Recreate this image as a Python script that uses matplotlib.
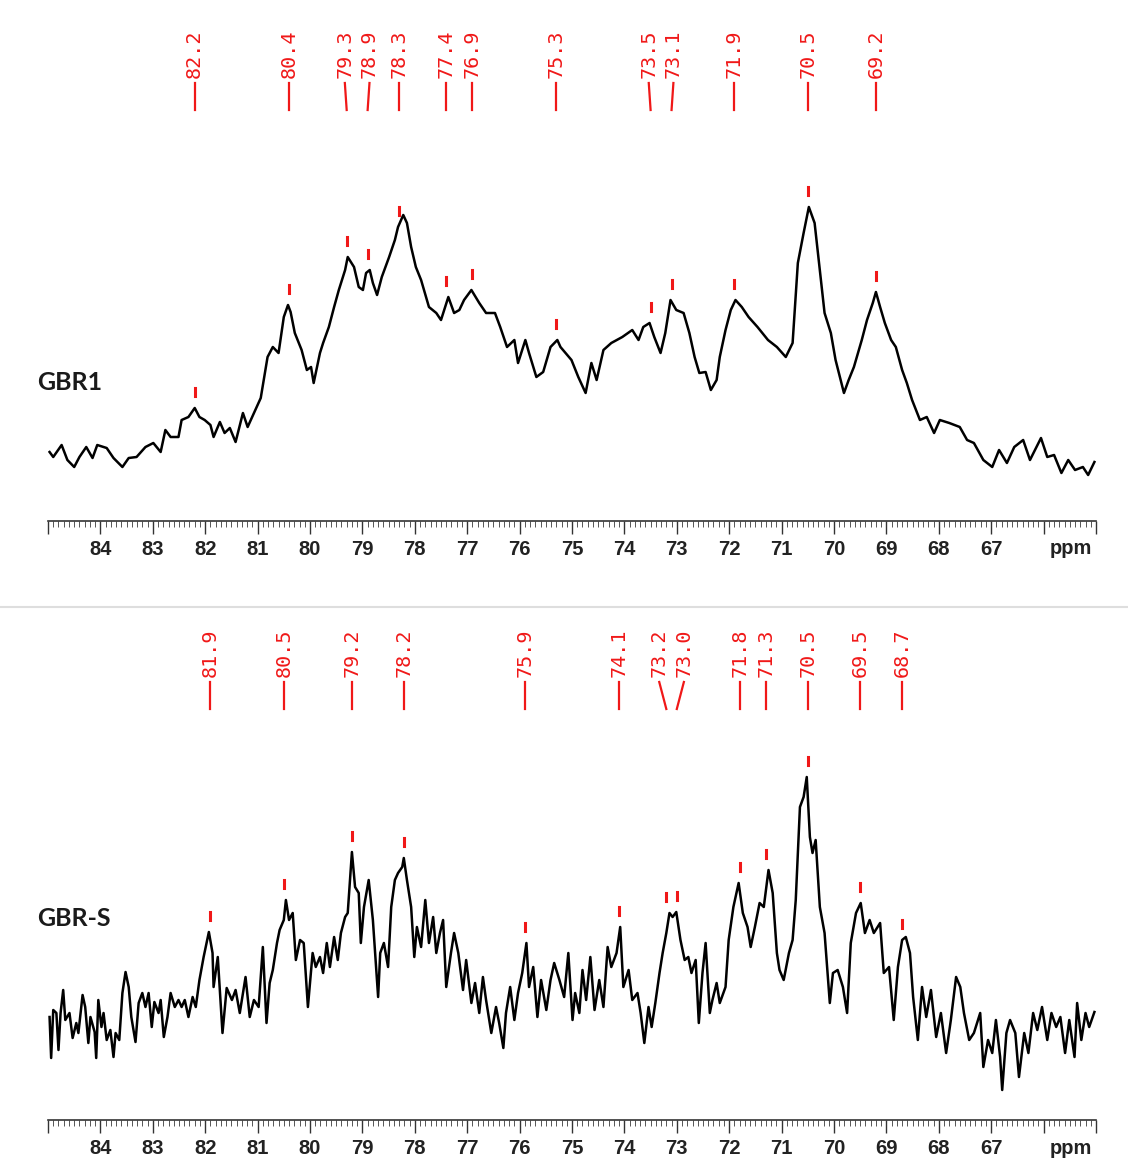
import numpy as np
import matplotlib.pyplot as plt
from matplotlib.lines import Line2D
from matplotlib.ticker import FixedLocator, FixedFormatter

# GBR1 trace (ppm, intensity a.u.)
gbr1_ppm = [84.97, 84.90, 84.74, 84.63, 84.50, 84.40, 84.27, 84.15, 84.06, 83.88,
            83.75, 83.58, 83.46, 83.31, 83.14, 82.99, 82.85, 82.76, 82.66, 82.51,
            82.45, 82.32, 82.20, 82.11, 82.01, 81.90, 81.84, 81.72, 81.63, 81.53,
            81.42, 81.28, 81.19, 81.07, 80.94, 80.81, 80.71, 80.60, 80.50, 80.42,
            80.37, 80.29, 80.16, 80.06, 79.98, 79.93, 79.81, 79.75, 79.64, 79.54,
            79.45, 79.33, 79.28, 79.16, 79.07, 78.99, 78.93, 78.86, 78.80, 78.72,
            78.63, 78.49, 78.38, 78.32, 78.22, 78.15, 78.07, 77.98, 77.88, 77.73,
            77.59, 77.50, 77.36, 77.25, 77.15, 77.06, 76.92, 76.77, 76.64, 76.47,
            76.37, 76.24, 76.10, 76.03, 75.89, 75.82, 75.68, 75.55, 75.41, 75.28,
            75.22, 75.01, 74.88, 74.74, 74.63, 74.53, 74.40, 74.25, 74.04, 73.85,
            73.73, 73.64, 73.52, 73.43, 73.31, 73.22, 73.12, 73.01, 72.87, 72.76,
            72.66, 72.57, 72.45, 72.35, 72.24, 72.18, 72.07, 71.97, 71.88, 71.76,
            71.63, 71.46, 71.26, 71.09, 70.92, 70.79, 70.69, 70.58, 70.48, 70.37,
            70.27, 70.18, 70.06, 69.97, 69.81, 69.72, 69.62, 69.47, 69.37, 69.26,
            69.20, 69.12, 69.03, 68.91, 68.82, 68.70, 68.61, 68.51, 68.36, 68.23,
            68.09, 67.98, 67.80, 67.60, 67.46, 67.33, 67.15, 66.98, 66.85, 66.70,
            66.56, 66.39, 66.26, 66.05, 65.93, 65.80, 65.66, 65.53, 65.40, 65.25,
            65.15, 65.03]
gbr1_int = [69, 64, 76, 61, 54, 64, 74, 63, 76, 73,
            63, 54, 63, 64, 74, 78, 69, 91, 84, 84,
            101, 104, 113, 104, 101, 96, 84, 99, 88, 93,
            79, 108, 94, 108, 123, 164, 174, 168, 204, 216,
            209, 188, 171, 151, 154, 138, 168, 178, 194, 214,
            231, 251, 264, 254, 234, 231, 248, 251, 238, 226,
            244, 264, 281, 294, 306, 298, 274, 254, 241, 214,
            208, 201, 224, 208, 211, 221, 231, 218, 208, 208,
            194, 174, 181, 158, 181, 168, 144, 149, 174, 181,
            174, 161, 144, 128, 158, 141, 171, 178, 184, 191,
            181, 194, 198, 184, 168, 188, 221, 211, 208, 188,
            164, 148, 149, 131, 141, 164, 191, 211, 221, 214,
            204, 194, 181, 174, 164, 178, 258, 288, 314, 298,
            251, 208, 188, 161, 128, 141, 154, 181, 201, 218,
            229, 214, 198, 181, 174, 151, 138, 121, 101, 104,
            88, 101, 98, 94, 81, 78, 61, 54, 71, 58,
            74, 81, 61, 83, 64, 66, 48, 61, 51, 54,
            46, 59]

# GBR-S trace (ppm, intensity a.u.)
gbrs_ppm = [84.97, 84.94, 84.90, 84.84, 84.80, 84.76, 84.71, 84.67, 84.59, 84.53,
            84.46, 84.42, 84.34, 84.29, 84.23, 84.19, 84.11, 84.08, 84.04, 83.98,
            83.94, 83.88, 83.81, 83.75, 83.71, 83.64, 83.58, 83.52, 83.46, 83.41,
            83.33, 83.27, 83.20, 83.14, 83.08, 83.02, 82.97, 82.89, 82.85, 82.79,
            82.72, 82.66, 82.58, 82.51, 82.45, 82.39, 82.32, 82.24, 82.18, 82.11,
            82.03, 81.93, 81.86, 81.84, 81.76, 81.67, 81.59, 81.49, 81.42, 81.34,
            81.23, 81.15, 81.07, 80.98, 80.90, 80.83, 80.77, 80.71, 80.63, 80.58,
            80.50, 80.46, 80.40, 80.33, 80.27, 80.19, 80.12, 80.04, 79.95, 79.89,
            79.81, 79.75, 79.68, 79.62, 79.54, 79.47, 79.41, 79.33, 79.28, 79.20,
            79.14, 79.07, 79.03, 78.97, 78.88, 78.80, 78.70, 78.66, 78.59, 78.51,
            78.45, 78.38, 78.32, 78.24, 78.21, 78.15, 78.07, 78.01, 77.96, 77.88,
            77.80, 77.73, 77.65, 77.59, 77.52, 77.46, 77.40, 77.31, 77.25, 77.17,
            77.08, 77.02, 76.92, 76.85, 76.77, 76.70, 76.64, 76.54, 76.45, 76.39,
            76.31, 76.26, 76.18, 76.10, 76.03, 75.95, 75.87, 75.82, 75.74, 75.66,
            75.59, 75.49, 75.41, 75.34, 75.24, 75.15, 75.07, 74.99, 74.94, 74.86,
            74.80, 74.73, 74.65, 74.57, 74.48, 74.40, 74.32, 74.25, 74.15, 74.08,
            74.02, 73.92, 73.85, 73.75, 73.69, 73.62, 73.54, 73.48, 73.41, 73.33,
            73.27, 73.20, 73.14, 73.08, 73.01, 72.93, 72.85, 72.78, 72.72, 72.64,
            72.58, 72.51, 72.45, 72.37, 72.32, 72.24, 72.18, 72.07, 72.01, 71.92,
            71.82, 71.74, 71.65, 71.59, 71.51, 71.42, 71.34, 71.25, 71.17, 71.09,
            71.04, 70.96, 70.86, 70.79, 70.73, 70.65, 70.58, 70.52, 70.46, 70.41,
            70.35, 70.27, 70.18, 70.08, 70.02, 69.93, 69.83, 69.75, 69.68, 69.58,
            69.49, 69.41, 69.32, 69.24, 69.12, 69.05, 68.95, 68.86, 68.78, 68.70,
            68.63, 68.55, 68.49, 68.40, 68.32, 68.24, 68.15, 68.05, 67.96, 67.86,
            67.77, 67.67, 67.59, 67.52, 67.42, 67.33, 67.21, 67.15, 67.06, 66.98,
            66.91, 66.83, 66.79, 66.71, 66.64, 66.54, 66.47, 66.37, 66.29, 66.20,
            66.12, 66.03, 65.93, 65.85, 65.76, 65.68, 65.59, 65.51, 65.41, 65.36,
            65.28, 65.20, 65.13, 65.03]
gbrs_int = [103, 62, 110, 107, 70, 107, 130, 100, 107, 82,
            97, 87, 125, 113, 77, 103, 88, 62, 120, 93,
            107, 80, 90, 63, 87, 80, 127, 148, 133, 103,
            78, 117, 127, 113, 127, 93, 118, 107, 120, 83,
            103, 127, 113, 120, 113, 120, 103, 123, 113, 140,
            163, 188, 167, 133, 163, 87, 132, 120, 130, 107,
            143, 103, 120, 113, 173, 97, 137, 150, 177, 190,
            200, 220, 200, 207, 160, 180, 177, 113, 167, 153,
            163, 147, 177, 153, 183, 160, 187, 203, 207, 268,
            233, 227, 177, 213, 240, 200, 123, 167, 177, 153,
            213, 240, 247, 253, 262, 240, 213, 163, 193, 173,
            220, 177, 203, 167, 187, 200, 133, 167, 187, 167,
            130, 160, 117, 137, 107, 143, 120, 87, 113, 97,
            72, 107, 133, 100, 127, 147, 177, 133, 153, 103,
            140, 110, 140, 157, 140, 123, 167, 100, 127, 107,
            150, 120, 163, 110, 140, 113, 173, 153, 167, 193,
            133, 150, 120, 127, 107, 77, 113, 93, 117, 147,
            167, 187, 207, 203, 208, 180, 160, 163, 147, 160,
            97, 147, 177, 107, 120, 137, 117, 133, 180, 213,
            237, 207, 193, 173, 193, 217, 213, 250, 227, 167,
            150, 140, 167, 180, 220, 313, 323, 343, 283, 267,
            280, 213, 187, 117, 147, 150, 133, 107, 177, 207,
            217, 187, 200, 187, 197, 147, 153, 100, 153, 180,
            183, 167, 123, 80, 133, 103, 130, 83, 107, 67,
            100, 143, 133, 107, 80, 87, 107, 53, 80, 67,
            100, 63, 30, 87, 100, 87, 43, 87, 67, 107,
            90, 113, 80, 107, 93, 103, 67, 100, 63, 117,
            80, 107, 93, 108]

# picked peaks
gbr1_peaks = [82.2, 80.4, 79.3, 78.9, 78.3, 77.4, 76.9, 75.3, 73.5, 73.1, 71.9, 70.5, 69.2]
gbrs_peaks = [81.9, 80.5, 79.2, 78.2, 75.9, 74.1, 73.2, 73.0, 71.8, 71.3, 70.5, 69.5, 68.7]

major = list(range(65, 86))
major_labels = [str(v) if 67 <= v <= 84 else '' for v in major]

W, H = 1128, 1161
fig = plt.figure(figsize=(W / 100, H / 100), dpi=100)
fig.patch.set_facecolor('white')

RED = '#f01818'
AXFONT = ['Liberation Sans', 'DejaVu Sans']


def spread(vals, gap):
    # push crowded labels apart so the text doesn't collide
    pos = list(vals)
    for _ in range(60):
        for i in range(len(pos) - 1):
            d = pos[i] - pos[i + 1]
            if d < gap:
                s = (gap - d) / 2
                pos[i] += s
                pos[i + 1] -= s
    return pos


def spectrum(ax, ppm, inten, peaks, name, name_y):
    ppm = np.array(ppm)
    inten = np.array(inten)
    ax.plot(ppm, inten, color='black', lw=1.8, solid_joinstyle='round')
    ax.set_xlim(85, 65)
    ax.set_ylim(0, 521)
    ax.patch.set_alpha(0)
    for s in ['top', 'left', 'right']:
        ax.spines[s].set_visible(False)
    ax.spines['bottom'].set_color('#333333')
    ax.spines['bottom'].set_linewidth(1.2)
    ax.set_yticks([])
    ax.xaxis.set_major_locator(FixedLocator(major))
    ax.xaxis.set_major_formatter(FixedFormatter(major_labels))
    ax.xaxis.set_minor_locator(FixedLocator(np.round(np.arange(65, 85.001, 0.1), 1)))
    ax.tick_params(axis='x', which='major', direction='out', length=9, width=1.0,
                   color='#333333', pad=5)
    ax.tick_params(axis='x', which='minor', direction='out', length=4, width=0.7,
                   color='#555555')
    for lb in ax.get_xticklabels():
        lb.set_family(AXFONT)
        lb.set_fontweight('bold')
        lb.set_fontsize(14.5)
        lb.set_color('#222222')
    ax.text(65.48, -28, 'ppm', ha='center', va='center', fontsize=14.5,
            fontweight='bold', family=AXFONT, color='#222222', clip_on=False)

    # peak labels with leader lines
    pos = spread(peaks, 0.47)
    for p, q in zip(peaks, pos):
        ax.text(q, 443, f'{p:.1f}', rotation=90, ha='center', va='bottom',
                color=RED, fontsize=14.5, family='DejaVu Sans Mono', clip_on=False)
        ax.plot([q, p], [438, 411], color=RED, lw=1.6, clip_on=False)
        near = np.abs(ppm - p) <= 0.07
        top = inten[near].max()
        ax.plot([p, p], [top + 12, top + 20], color=RED, lw=2.2)

    ax.text(85.2, name_y, name, ha='left', va='center', fontsize=18,
            fontweight='bold', family=['Lato', 'DejaVu Sans'], color='#1a1a1a',
            clip_on=False)


ax1 = fig.add_axes([48 / W, (H - 521) / H, 1048 / W, 521 / H])
spectrum(ax1, gbr1_ppm, gbr1_int, gbr1_peaks, 'GBR1', 138)

ax2 = fig.add_axes([48 / W, (H - 1120) / H, 1048 / W, 521 / H])
spectrum(ax2, gbrs_ppm, gbrs_int, gbrs_peaks, 'GBR-S', 202)

# divider between the two spectra
fig.add_artist(Line2D([0, 1], [(H - 607) / H] * 2, transform=fig.transFigure,
                      color='#dedede', lw=1.5))

fig.savefig('out.png', dpi=100)
